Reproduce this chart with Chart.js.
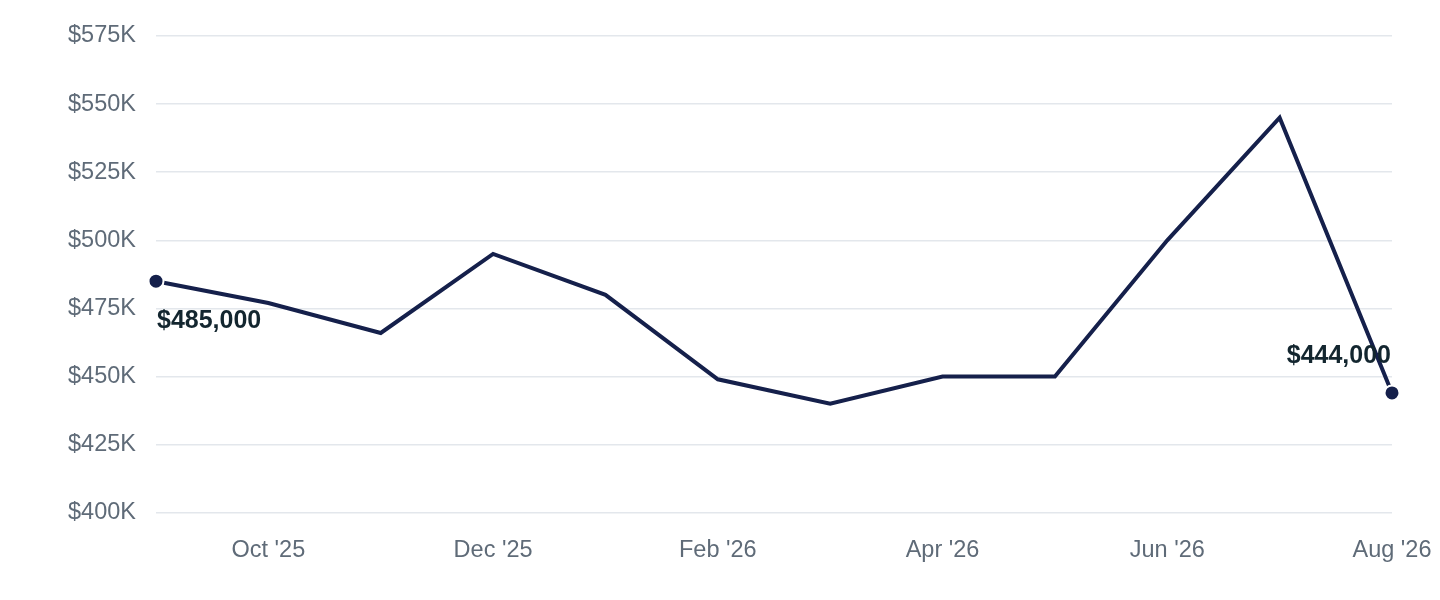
<!DOCTYPE html>
<html>
<head>
<meta charset="utf-8">
<script src="https://cdn.jsdelivr.net/npm/chart.js@4"></script>
<style>
  html, body { margin: 0; padding: 0; background: #fff; }
  #wrap { width: 1440px; height: 600px; }
</style>
</head>
<body>
<div id="wrap"><canvas id="priceChart"></canvas></div>
<script>
const months = ["Sep '25", "Oct '25", "Nov '25", "Dec '25", "Jan '26", "Feb '26",
                "Mar '26", "Apr '26", "May '26", "Jun '26", "Jul '26", "Aug '26"];
const prices = [485000, 477000, 466000, 495000, 480000, 449000,
                440000, 450000, 450000, 500000, 545000, 444000];
const yTicks = [400000, 425000, 450000, 475000, 500000, 525000, 550000, 575000];

const navy = '#15204b';
const tickGray = '#5f6b78';

// labels the first and last points
const endLabels = {
    id: 'endLabels',
    afterDatasetsDraw(chart) {
        const ctx = chart.ctx;
        const pts = chart.getDatasetMeta(0).data;
        const first = pts[0];
        const last = pts[pts.length - 1];
        ctx.save();
        ctx.font = 'bold 25px "Liberation Sans", Arial, sans-serif';
        ctx.fillStyle = '#13262f';
        ctx.textBaseline = 'middle';
        ctx.textAlign = 'left';
        ctx.fillText('$' + prices[0].toLocaleString('en-US'), first.x + 1, first.y + 40);
        ctx.textAlign = 'right';
        ctx.fillText('$' + prices[prices.length - 1].toLocaleString('en-US'), last.x - 1, last.y - 37);
        ctx.restore();
    }
};

new Chart(document.getElementById('priceChart'), {
    type: 'line',
    data: {
        labels: months,
        datasets: [{
            data: prices,
            borderColor: navy,
            borderWidth: 4,
            tension: 0,
            pointRadius: prices.map((v, i) => (i === 0 || i === prices.length - 1) ? 7.5 : 0),
            pointBackgroundColor: navy,
            pointBorderColor: '#ffffff',
            pointBorderWidth: 2
        }]
    },
    options: {
        responsive: true,
        maintainAspectRatio: false,
        animation: false,
        layout: { padding: { top: 36, right: 48, bottom: 19, left: 0 } },
        plugins: {
            legend: { display: false },
            tooltip: { enabled: false }
        },
        scales: {
            x: {
                offset: false,
                grid: { display: false },
                border: { display: false },
                afterFit: function (axis) { axis.paddingLeft = 0; axis.paddingRight = 0; },
                ticks: {
                    autoSkip: false,
                    maxRotation: 0,
                    padding: 16,
                    color: tickGray,
                    font: { family: '"Liberation Sans", Arial, sans-serif', size: 23.5 },
                    callback: function (val, i) { return i % 2 === 1 ? months[i] : ''; }
                }
            },
            y: {
                min: 400000,
                max: 575000,
                afterBuildTicks: function (axis) { axis.ticks = yTicks.map(v => ({ value: v })); },
                afterFit: function (axis) { axis.width = 156; axis.paddingTop = 0; axis.paddingBottom = 0; },
                grid: { color: '#e3e7ec', lineWidth: 1.5, drawTicks: false },
                border: { display: false },
                ticks: {
                    padding: 20,
                    color: tickGray,
                    font: { family: '"Liberation Sans", Arial, sans-serif', size: 23.5 },
                    callback: function (v) { return '$' + (v / 1000) + 'K'; }
                }
            }
        }
    },
    plugins: [endLabels]
});
</script>
</body>
</html>
